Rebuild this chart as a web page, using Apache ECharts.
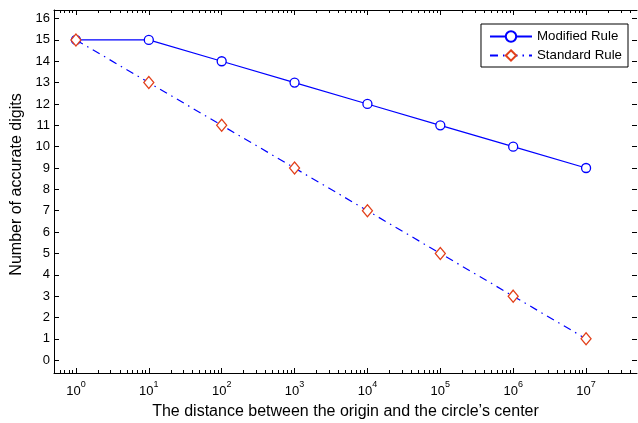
<!DOCTYPE html>
<html>
<head>
<meta charset="utf-8">
<script src="https://cdn.jsdelivr.net/npm/echarts@6.0.0/dist/echarts.min.js"></script>
<style>
html,body{margin:0;padding:0;background:#fff;}
#main{width:638px;height:423px;}
</style>
</head>
<body>
<div id="main"></div>
<script>
// Data
var distances = [1, 10, 100, 1000, 10000, 100000, 1000000, 10000000];
var modifiedRule = [15, 15, 14, 13, 12, 11, 10, 9];
var standardRule = [15, 13, 11, 9, 7, 5, 3, 1];
var seriesNames = ['Modified Rule', 'Standard Rule'];
var xMajorTicks = [1, 10, 100, 1000, 10000, 100000, 1000000, 10000000];
var yTicks = [0,1,2,3,4,5,6,7,8,9,10,11,12,13,14,15,16];
var xTitle = 'The distance between the origin and the circle\u2019s center';
var yTitle = 'Number of accurate digits';

var xMinorTicks = [];
[0.1,1,10,100,1000,10000,100000,1000000,10000000].forEach(function(d){
  for (var k = 2; k <= 9; k++) {
    var v = d * k;
    if (v > 0.5 && v < 5e7) xMinorTicks.push(v);
  }
});

var FONT = '"Liberation Sans", Arial, Helvetica, sans-serif';
var X_MIN = 0.5, X_MAX = 5e7, Y_MIN = -0.6, Y_MAX = 16.4;

function xAxisBase(pos, ticks, len, showLine, showLabel) {
  return {
    type: 'log', logBase: 10, min: X_MIN, max: X_MAX, position: pos,
    axisLine: {show: showLine, onZero: false, lineStyle: {color: '#000', width: 1}},
    axisTick: {show: true, inside: true, length: len, customValues: ticks,
               lineStyle: {color: '#000', width: 1}},
    axisLabel: {show: showLabel},
    splitLine: {show: false},
    minorTick: {show: false}
  };
}

var x0 = xAxisBase('bottom', xMajorTicks, 5, true, true);
x0.axisLabel = {
  show: true, customValues: xMajorTicks, margin: 7,
  formatter: function(v){ return '{b|10}{s|' + Math.round(Math.log10(v)) + '}'; },
  rich: {
    b: {fontSize: 13, fontFamily: FONT, color: '#000', verticalAlign: 'bottom', lineHeight: 18},
    s: {fontSize: 9, fontFamily: FONT, color: '#000', verticalAlign: 'top', lineHeight: 18}
  }
};
x0.name = xTitle;
x0.nameLocation = 'middle';
x0.nameGap = 31;
x0.nameTextStyle = {fontSize: 16, fontFamily: FONT, color: '#000'};

var chart = echarts.init(document.getElementById('main'), null, {renderer: 'canvas'});
chart.setOption({
  backgroundColor: '#fff',
  animation: false,
  grid: {left: 54, top: 10, width: 583, height: 363, containLabel: false, outerBoundsMode: 'none', show: false},
  legend: {
    data: seriesNames,
    orient: 'vertical',
    right: 10, top: 24,
    backgroundColor: '#fff',
    borderColor: '#000', borderWidth: 1,
    padding: [6, 6, 5, 8],
    itemGap: 6,
    itemWidth: 42, itemHeight: 13,
    textStyle: {fontSize: 13.3, fontFamily: FONT, color: '#000'}
  },
  xAxis: [
    x0,
    xAxisBase('bottom', xMinorTicks, 3, false, false),
    xAxisBase('top', xMajorTicks, 5, true, false),
    xAxisBase('top', xMinorTicks, 3, false, false)
  ],
  yAxis: [
    {
      type: 'value', min: Y_MIN, max: Y_MAX, position: 'left',
      axisLine: {show: true, onZero: false, lineStyle: {color: '#000', width: 1}},
      axisTick: {show: true, inside: true, length: 5, customValues: yTicks, lineStyle: {color: '#000'}},
      axisLabel: {show: true, customValues: yTicks, margin: 4, fontSize: 13, fontFamily: FONT, color: '#000'},
      splitLine: {show: false},
      name: yTitle, nameLocation: 'middle', nameGap: 27, nameRotate: 90,
      nameTextStyle: {fontSize: 16, fontFamily: FONT, color: '#000', padding: [0, 0, 0, 14]}
    },
    {
      type: 'value', min: Y_MIN, max: Y_MAX, position: 'right',
      axisLine: {show: false, onZero: false},
      axisTick: {show: true, inside: true, length: 5, customValues: yTicks, lineStyle: {color: '#000'}},
      axisLabel: {show: false},
      splitLine: {show: false}
    }
  ],
  series: [
    {
      name: seriesNames[0], type: 'line', xAxisIndex: 0, yAxisIndex: 0,
      data: distances.map(function(d, i){ return [d, modifiedRule[i]]; }),
      symbol: 'circle', symbolSize: 9,
      lineStyle: {color: '#0000ff', width: 1.2, type: 'solid'},
      itemStyle: {color: '#ffffff', borderColor: '#0000ff', borderWidth: 1.3},
      z: 3
    },
    {
      name: seriesNames[1], type: 'line', xAxisIndex: 0, yAxisIndex: 0,
      data: distances.map(function(d, i){ return [d, standardRule[i]]; }),
      symbol: 'diamond', symbolSize: [10, 12],
      lineStyle: {color: '#0000ff', width: 1.2, type: [8, 5, 1.5, 5]},
      itemStyle: {color: '#ffffff', borderColor: '#e2401a', borderWidth: 1.3},
      z: 4
    }
  ]
});
</script>
</body>
</html>
